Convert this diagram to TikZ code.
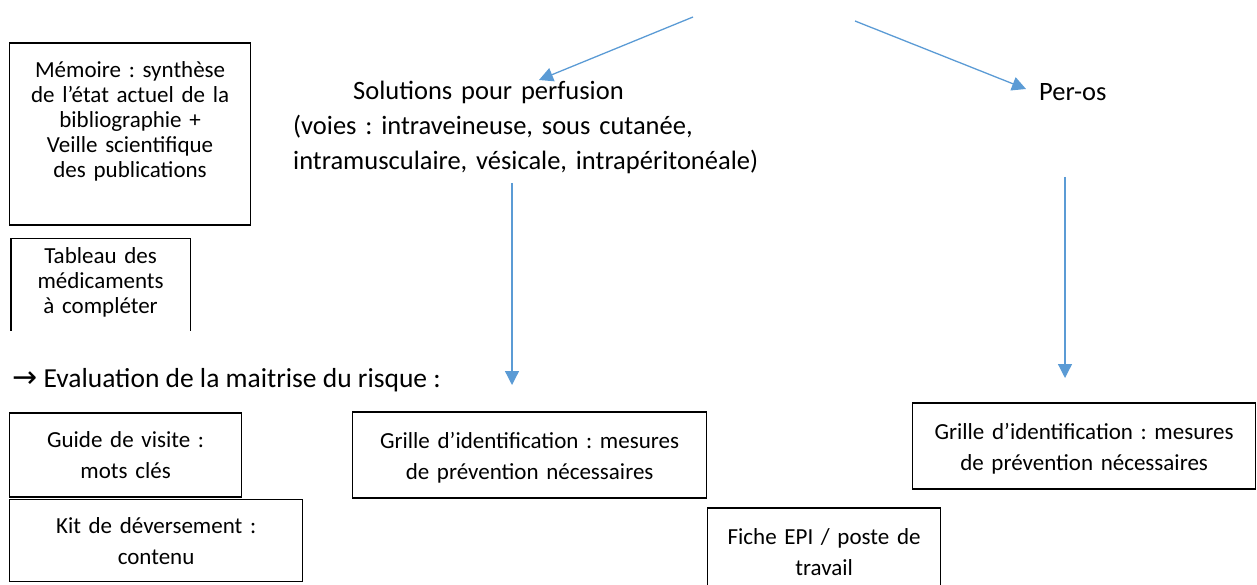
\documentclass[tikz,border=0pt]{standalone}
\usepackage{fontspec}
\setmainfont{Carlito}
\newfontfamily\symfont{DejaVu Sans}
\usetikzlibrary{arrows.meta,positioning}
\definecolor{wordblue}{RGB}{91,155,213}
\frenchspacing

\begin{document}
\begin{tikzpicture}[x=1pt,y=-1pt,>={Triangle[width=14pt,length=14pt]},
                    every node/.style={font=\fontsize{26.5}{35}\selectfont},
                    box/.style={draw,line width=1.2pt,align=center,inner sep=0pt,anchor=base west,
                                font=\fontsize{23}{25}\selectfont},
                    wide box/.style={box,font=\fontsize{23}{31}\selectfont},
                    flow/.style={->,color=wordblue,line width=1.3pt}]
\clip (0,0) rectangle (1257,585);

% left column
\node[box,text width=241,text height=35,text depth=147] (memoire) at (9,78)
  {Mémoire : synthèse\\de l’état actuel de la\\bibliographie +\\Veille scientifique\\des publications};
\begin{scope}
  \clip (0,0) rectangle (1257,330);
  \node[box,draw=none,text width=178,text height=24,text depth=82] (tableau) at (11,263)
    {Tableau des\\médicaments\\à compléter};
  \draw[line width=1.2pt] (tableau.south west) -- (tableau.north west)
    -- (tableau.north east) -- (tableau.south east);
\end{scope}

\node[anchor=base west,inner sep=0pt,font=\fontsize{27.5}{35}\selectfont] (eval) at (12,387)
  {{\symfont\fontsize{30}{30}\selectfont →} Evaluation de la maitrise du risque :};
\node[wide box,text width=232,text height=34,text depth=50] (guide) at (9,447) {Guide de visite :\\mots clés};
\node[wide box,text width=293,text height=34,text depth=48,below=1pt of guide.south west,anchor=north west] (kit)
  {Kit de déversement :\\contenu};

% routes
\node[anchor=base west,align=left,inner sep=0pt,text width=480] (perf) at (293,100)
  {\hspace*{60pt}Solutions pour perfusion\\(voies : intraveineuse, sous cutanée,\\intramusculaire, vésicale, intrapéritonéale)};
\node[anchor=base west,inner sep=0pt] (peros) at (1039,101) {Per-os};

\node[wide box,text width=354,text height=36,text depth=50] (grille1) at (352,448)
  {Grille d’identification : mesures\\de prévention nécessaires};
\node[wide box,text width=343,text height=36,text depth=50] (grille2) at (912,439)
  {Grille d’identification : mesures\\de prévention nécessaires};
\node[wide box,text width=233,text height=36,text depth=92] (fiche) at (707,544)
  {Fiche EPI / poste de\\travail};

\coordinate (src1) at (693,17);
\coordinate (dst1) at (539,80);
\coordinate (src2) at (855,21);
\coordinate (dst2) at (1026,89);
\coordinate (down1) at (512,183);
\coordinate (end1) at (512,385);
\coordinate (down2) at (1065,177);
\coordinate (end2) at (1065,378);

\path[flow]
  (src1) edge (dst1)
  (src2) edge (dst2)
  (down1) edge (end1)
  (down2) edge (end2);

\end{tikzpicture}
\end{document}
